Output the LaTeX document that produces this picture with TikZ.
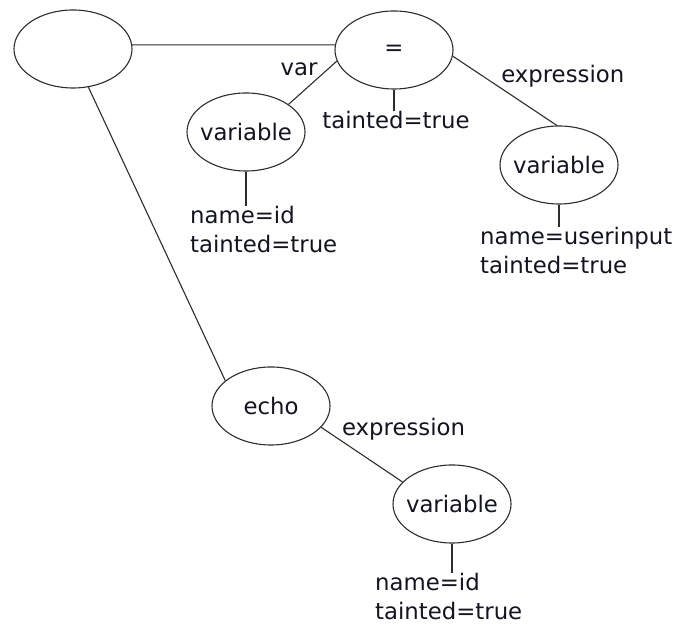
\documentclass[tikz,border=0pt]{standalone}
\usepackage{fontspec}
\setmainfont{DejaVu Sans}
\usetikzlibrary{shapes.geometric}
\definecolor{AstLine}{RGB}{45,45,45}
\definecolor{AstText}{RGB}{18,20,34}

\begin{document}
\begin{tikzpicture}[
    x=1pt,y=1pt,
    astnode/.style={ellipse,draw=AstLine,line width=1.1pt,minimum width=118pt,minimum height=78pt,inner ysep=0pt,inner xsep=-6pt,text=AstText,font=\fontsize{22.8pt}{29pt}\selectfont},
    attr/.style={align=left,inner sep=0pt,text=AstText,font=\fontsize{22.8pt}{29pt}\selectfont},
    edgelbl/.style={inner sep=0pt,text=AstText,font=\fontsize{22.8pt}{29pt}\selectfont},
    link/.style={draw=AstLine,line width=1.1pt}
  ]
    \useasboundingbox (0,0) rectangle (679,623);
    % tree nodes
    \node[astnode] (root) at (73,574) {};
    \node[astnode] (assign) at (394,573) {=};
    \node[astnode] (lhsvar) at (246,491) {variable};
    \node[astnode] (rhsvar) at (559,458) {variable};
    \node[astnode] (echo) at (271,217) {echo};
    \node[astnode] (echovar) at (452,119) {variable};
    % attributes
    \node[attr,anchor=north] (assigninfo) at (396,512) {tainted=true};
    \node[attr,anchor=north west] (lhsinfo) at (190,417) {name=id\\tainted=true};
    \node[attr,anchor=north west] (rhsinfo) at (480,396) {name=userinput\\tainted=true};
    \node[attr,anchor=north west] (echoinfo) at (375,50) {name=id\\tainted=true};
    % edges
    \draw[link] (root.4) -- (assign.175);
    \draw[link] (root.-68) -- (echo.151);
    \draw[link] (assign.191) -- node[edgelbl,pos=0.37,anchor=south east,inner sep=1pt] {var} (lhsvar.33);
    \draw[link] (assign.-6) -- node[edgelbl,pos=0.46,anchor=south west] {expression} (rhsvar.93);
    \draw[link] (echo.-23) -- node[edgelbl,pos=0.25,anchor=south west] {expression} (echovar.156);
    % attribute stubs
    \draw[link] (assign.south) -- (assign.south |- assigninfo.north);
    \draw[link] (lhsvar.south) -- (lhsvar.south |- lhsinfo.north);
    \draw[link] (rhsvar.south) -- (rhsvar.south |- rhsinfo.north);
    \draw[link] (echovar.south) -- (echovar.south |- echoinfo.north);
\end{tikzpicture}
\end{document}
